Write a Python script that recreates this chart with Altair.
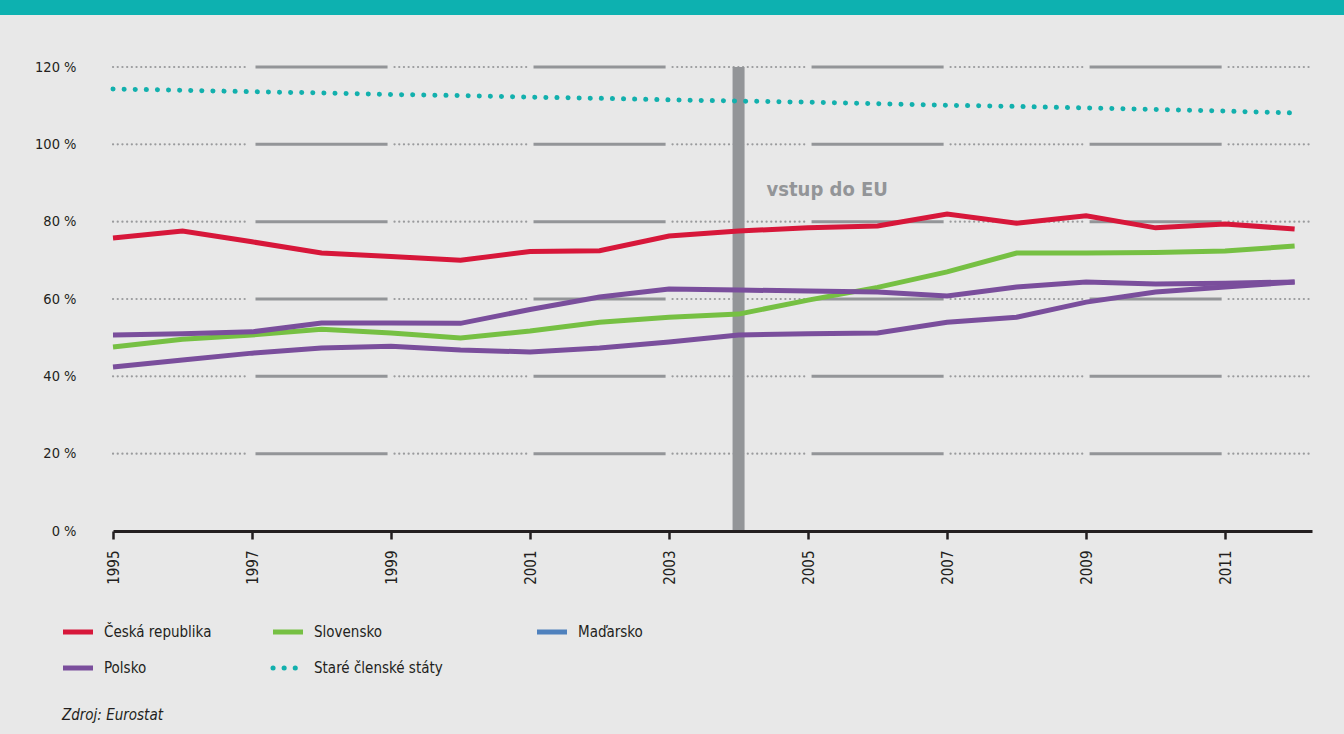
import altair as alt
import pandas as pd

# ---- data -------------------------------------------------------------
years = list(range(1995, 2013))

cesko = [75.8, 77.6, 74.8, 71.9, 71.0, 70.0, 72.3, 72.5, 76.3, 77.6,
         78.4, 78.9, 82.0, 79.6, 81.5, 78.4, 79.4, 78.1]
slovensko = [47.6, 49.6, 50.7, 52.2, 51.2, 49.9, 51.7, 54.0, 55.3, 56.1,
             59.7, 63.0, 67.0, 71.9, 71.9, 72.0, 72.4, 73.7]
polsko = [50.7, 51.0, 51.5, 53.8, 53.8, 53.7, 57.3, 60.5, 62.6, 62.3,
          62.1, 61.8, 60.8, 63.1, 64.4, 63.9, 64.1, 64.4]
madarsko = [42.4, 44.2, 46.0, 47.3, 47.8, 46.8, 46.3, 47.3, 48.9, 50.7,
            51.0, 51.2, 54.0, 55.3, 59.2, 61.8, 63.1, 64.4]
stare = [114.3, 114.0, 113.6, 113.3, 112.9, 112.6, 112.2, 111.9, 111.5, 111.2,
         110.9, 110.5, 110.1, 109.8, 109.4, 109.0, 108.6, 108.1]

x_ticks = list(range(1995, 2012, 2))
y_ticks = [0, 20, 40, 60, 80, 100, 120]
eu_entry_year = 2004

legend_labels = ["Česká republika", "Slovensko", "Maďarsko", "Polsko", "Staré členské státy"]
legend_colors = ["#d7173a", "#76c043", "#4f81bd", "#7a4e9c", "#12b0ad"]

# ---- styling ----------------------------------------------------------
FONT = "Liberation Sans Narrow, DejaVu Sans Condensed, sans-serif"
BG = "#e8e8e8"
GREY = "#939598"
INK = "#231f20"
X_MAX = 2012.25
W, H = 1199, 464

x_scale = alt.Scale(domain=[1995, X_MAX], nice=False, zero=False)
y_scale = alt.Scale(domain=[0, 120], nice=False)

# ---- tables -----------------------------------------------------------
series = pd.concat([
    pd.DataFrame({"rok": years, "hodnota": cesko, "rada": "Česká republika", "barva": "#d7173a"}),
    pd.DataFrame({"rok": years, "hodnota": slovensko, "rada": "Slovensko", "barva": "#76c043"}),
    pd.DataFrame({"rok": years, "hodnota": polsko, "rada": "Polsko", "barva": "#7a4e9c"}),
    pd.DataFrame({"rok": years, "hodnota": madarsko, "rada": "Maďarsko", "barva": "#7a4e9c"}),
])
old_members = pd.DataFrame({"rok": years, "hodnota": stare})

# horizontal grid: alternating dotted / solid segments between tick years
bounds = x_ticks + [X_MAX]
grid_rows = []
for yv in y_ticks[1:]:
    for i in range(len(bounds) - 1):
        grid_rows.append({
            "y": yv,
            "x0": bounds[i] + (0.05 if i > 0 else 0),
            "x1": bounds[i + 1] - (0.05 if i < len(bounds) - 2 else 0),
            "styl": "tecky" if i % 2 == 0 else "plna",
        })
grid = pd.DataFrame(grid_rows)

# ---- layers -----------------------------------------------------------
# invisible layer carrying both axes
axes = alt.Chart(pd.DataFrame({"rok": [1995], "hodnota": [0]})).mark_point(opacity=0).encode(
    x=alt.X("rok:Q", scale=x_scale, axis=alt.Axis(
        values=x_ticks, format="d", title=None, labelAngle=270, labelFontSize=15,
        labelFont=FONT, labelColor=INK, labelPadding=11, tickColor=INK,
        tickSize=8, tickWidth=2.5, domainColor=INK, domainWidth=3, grid=False,
        labelFlush=False, labelOverlap=False, zindex=1,
    )),
    y=alt.Y("hodnota:Q", scale=y_scale, axis=alt.Axis(
        values=y_ticks, title=None, labelExpr="datum.value + ' %'", labelFontSize=14.5,
        labelFont=FONT, labelColor=INK, labelPadding=37, ticks=False, domain=False,
        grid=False,
    )),
)

band = alt.Chart(pd.DataFrame({"a": [0]})).mark_rect(color="#0db1b0").encode(
    x=alt.value(-113), x2=alt.value(1344 - 113), y=alt.value(-67), y2=alt.value(-52)
)

grid_dotted = alt.Chart(grid).transform_filter("datum.styl == 'tecky'").mark_rule(
    color="#9a9b9d", strokeWidth=2.2, strokeDash=[0.1, 4.6], strokeCap="round"
).encode(
    x=alt.X("x0:Q", scale=x_scale), x2="x1:Q",
    y=alt.Y("y:Q", scale=y_scale),
)
grid_solid = alt.Chart(grid).transform_filter("datum.styl == 'plna'").mark_rule(
    color=GREY, strokeWidth=3
).encode(
    x=alt.X("x0:Q", scale=x_scale), x2="x1:Q",
    y=alt.Y("y:Q", scale=y_scale),
)

eu_bar = alt.Chart(pd.DataFrame({"rok": [eu_entry_year]})).mark_rule(
    color=GREY, strokeWidth=12
).encode(
    x=alt.X("rok:Q", scale=x_scale),
    y=alt.value(0), y2=alt.value(H),
)
eu_text = alt.Chart(pd.DataFrame({"rok": [eu_entry_year], "y": [88.2], "t": ["vstup do EU"]})).mark_text(
    align="left", baseline="middle", dx=28, font=FONT, fontSize=20, fontWeight="bold", color=GREY
).encode(
    x=alt.X("rok:Q", scale=x_scale),
    y=alt.Y("y:Q", scale=y_scale),
    text="t:N",
)

lines = alt.Chart(series).mark_line(strokeWidth=5, strokeJoin="miter").encode(
    x=alt.X("rok:Q", scale=x_scale),
    y=alt.Y("hodnota:Q", scale=y_scale),
    color=alt.Color("barva:N", scale=None, legend=None),
    detail="rada:N",
    order="rok:Q",
)
dotted = alt.Chart(old_members).mark_line(
    color="#12b0ad", strokeWidth=5, strokeDash=[0.1, 11], strokeCap="round"
).encode(
    x=alt.X("rok:Q", scale=x_scale),
    y=alt.Y("hodnota:Q", scale=y_scale),
)

# ---- legend (drawn in pixel space below the plot) ---------------------
legend_df = pd.DataFrame({
    "label": legend_labels,
    "barva": legend_colors,
    "col": [0, 1, 2, 0, 1],
    "row": [0, 0, 0, 1, 1],
})
col_x = {0: -50, 1: 160, 2: 424}
legend_df["lx"] = legend_df["col"].map(col_x)
legend_df["lx2"] = legend_df["lx"] + 30
legend_df["tx"] = legend_df["lx"] + 41
legend_df["ly"] = 565 + legend_df["row"] * 36
legend_df["tecky"] = legend_df["label"] == "Staré členské státy"

leg_lines = alt.Chart(legend_df).transform_filter("!datum.tecky").mark_rule(strokeWidth=5).encode(
    x=alt.X("lx:Q", scale=None), x2="lx2:Q", y=alt.Y("ly:Q", scale=None),
    color=alt.Color("barva:N", scale=None, legend=None),
)
leg_dots = alt.Chart(legend_df).transform_filter("datum.tecky").mark_rule(
    strokeWidth=5, strokeDash=[0.1, 11], strokeCap="round", color="#12b0ad"
).encode(
    x=alt.X("lx:Q", scale=None), x2="lx2:Q", y=alt.Y("ly:Q", scale=None),
)
leg_text = alt.Chart(legend_df).mark_text(
    align="left", baseline="middle", font=FONT, fontSize=15, color=INK
).encode(
    x=alt.X("tx:Q", scale=None), y=alt.Y("ly:Q", scale=None), text="label:N",
)
source = alt.Chart(pd.DataFrame({"t": ["Zdroj: Eurostat"]})).mark_text(
    align="left", baseline="middle", font=FONT, fontSize=15, fontStyle="italic", color=INK
).encode(x=alt.value(-51), y=alt.value(648), text="t:N")

chart = alt.layer(
    axes, band, grid_dotted, grid_solid, eu_bar, dotted, lines, eu_text,
    leg_lines, leg_dots, leg_text, source,
).properties(
    width=W, height=H, background=BG,
    padding={"left": 113, "top": 67, "right": 1344 - 113 - W, "bottom": 734 - 67 - H},
    autosize=alt.AutoSizeParams(type="none"),
).configure_view(stroke=None)

chart.save("out.html", embed_options={"renderer": "svg", "actions": False})
